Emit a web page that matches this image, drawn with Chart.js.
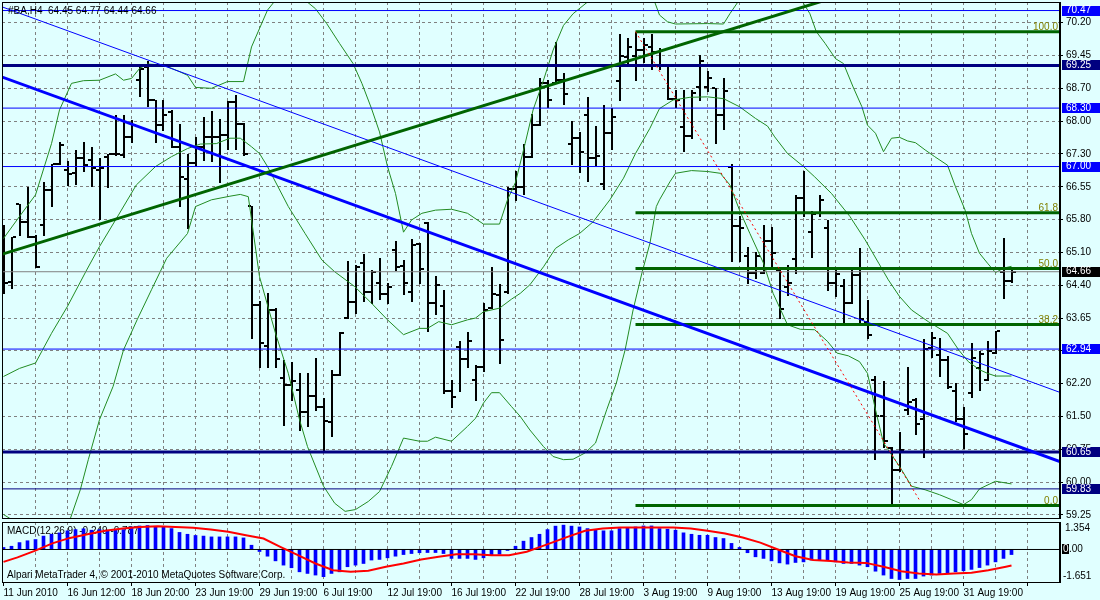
<!DOCTYPE html>
<html>
<head>
<meta charset="utf-8">
<script src="https://cdn.jsdelivr.net/npm/chart.js@4"></script>
<style>
  html, body { margin: 0; padding: 0; background: #e0ffff; }
  #wrap { position: relative; width: 1100px; height: 600px; background: #e0ffff; overflow: hidden; }
  canvas { position: absolute; left: 0; display: block; }
</style>
</head>
<body>
<div id="wrap">
  <canvas id="price" width="1100" height="521" style="top:0"></canvas>
  <canvas id="macd" width="1100" height="79" style="top:521px"></canvas>
</div>
<script>
// ---- data ----
const header = '#BA,H4  64.45 64.77 64.44 64.66';
const macdHeader = 'MACD(12,26,9) -0.249 -0.787';
const copyright = 'Alpari MetaTrader 4, \u00a9 2001-2010 MetaQuotes Software Corp.';

const dateLabels = ['11 Jun 2010', '16 Jun 12:00', '18 Jun 20:00', '23 Jun 19:00', '29 Jun 19:00',
  '6 Jul 19:00', '12 Jul 19:00', '16 Jul 19:00', '22 Jul 19:00', '28 Jul 19:00', '3 Aug 19:00',
  '9 Aug 19:00', '13 Aug 19:00', '19 Aug 19:00', '25 Aug 19:00', '31 Aug 19:00'];
const barsPerLabel = 8;
const barsPerGrid = 4;

const yTickLabels = ['59.25', '60.00', '60.75', '61.50', '62.20', '62.90', '63.65', '64.40',
  '65.10', '65.80', '66.55', '67.30', '68.00', '68.70', '69.45', '70.20'];
const yTickStart = 59.25, yTickStep = 0.73;

const opens = [
  65.51, 64.44, 66.17, 65.77, 65.43, 65.70, 66.48, 67.05, 66.92, 66.85,
  67.18, 67.14, 66.92, 67.22, 67.28, 67.26, 67.66, 68.92, 69.22, 68.49,
  67.92, 68.22, 67.44, 66.72, 67.07, 67.43, 67.65, 67.66, 67.70, 68.44,
  67.94, 66.12, 63.92, 63.00, 63.81, 62.29, 62.14, 62.03, 61.55, 61.89,
  61.65, 61.31, 62.37, 63.63, 63.98, 64.85, 64.20, 64.42, 64.16, 65.14,
  64.79, 64.22, 65.28, 65.74, 63.96, 63.90, 62.00, 62.98, 62.71, 62.26,
  62.55, 63.85, 64.14, 64.22, 66.51, 66.54, 67.22, 67.92, 68.86, 68.85,
  68.92, 67.50, 67.63, 68.14, 67.18, 66.61, 67.74, 68.91, 69.43, 69.46,
  69.59, 69.66, 69.55, 69.26, 68.51, 67.89, 67.68, 68.76, 68.77, 68.74,
  68.14, 67.00, 65.68, 65.00, 64.63, 64.64, 65.35, 64.69, 64.33, 64.94,
  66.29, 65.55, 65.96, 65.63, 64.40, 64.34, 63.97, 64.59, 63.55, 62.26,
  61.44, 60.74, 60.26, 61.59, 61.81, 61.38, 62.96, 62.81, 62.70, 62.00,
  61.38, 61.96, 62.51, 62.26, 62.85, 64.66, 64.45];
const highs = [
  65.70, 65.44, 66.17, 66.54, 65.48, 66.66, 67.05, 67.55, 67.12, 67.37,
  67.55, 67.44, 67.18, 67.28, 68.14, 68.14, 68.03, 69.26, 69.34, 68.49,
  68.49, 68.26, 67.94, 67.29, 67.66, 68.11, 68.23, 68.06, 68.46, 68.59,
  67.96, 66.12, 64.00, 64.18, 63.85, 62.70, 62.66, 62.40, 62.40, 62.74,
  61.85, 62.48, 63.33, 64.89, 64.81, 65.06, 64.69, 64.97, 64.40, 65.35,
  64.92, 65.39, 65.29, 65.77, 64.57, 64.26, 62.26, 63.11, 63.33, 62.59,
  63.97, 64.77, 64.38, 66.55, 66.89, 67.50, 68.17, 68.98, 68.92, 69.76,
  69.07, 68.02, 67.76, 68.54, 67.90, 68.37, 68.31, 69.94, 69.87, 70.00,
  69.87, 69.94, 69.63, 69.26, 68.71, 68.71, 68.71, 69.48, 69.13, 68.74,
  68.96, 67.06, 65.90, 65.22, 65.11, 65.70, 65.66, 64.70, 64.81, 66.37,
  66.91, 66.02, 66.37, 65.81, 64.77, 64.49, 64.70, 65.18, 64.03, 62.33,
  62.22, 60.77, 61.09, 62.55, 61.85, 63.17, 63.31, 63.18, 62.79, 62.18,
  61.66, 63.07, 62.89, 63.11, 63.35, 65.40, 64.77];
const lows = [
  64.18, 64.29, 65.48, 65.43, 64.77, 65.48, 66.13, 67.05, 66.59, 66.61,
  66.89, 66.57, 65.83, 66.54, 67.26, 67.22, 67.55, 68.57, 68.35, 67.55,
  67.81, 67.43, 66.13, 65.63, 67.02, 67.14, 67.13, 66.66, 67.40, 67.40,
  67.26, 63.18, 62.55, 62.55, 62.55, 61.26, 61.81, 61.14, 61.22, 61.59,
  60.66, 61.00, 62.37, 63.63, 63.75, 64.00, 63.97, 64.05, 63.96, 64.70,
  64.16, 64.02, 64.42, 63.34, 63.72, 61.97, 61.65, 62.00, 62.53, 61.80,
  62.46, 63.85, 62.64, 64.18, 66.26, 66.38, 67.22, 67.92, 68.33, 68.85,
  68.39, 67.06, 66.87, 66.68, 67.03, 66.49, 67.39, 68.49, 69.29, 68.92,
  69.33, 69.16, 69.16, 68.51, 68.33, 67.35, 67.63, 68.49, 68.69, 67.53,
  67.83, 64.89, 64.89, 64.42, 64.51, 64.63, 64.77, 63.63, 64.14, 64.64,
  65.89, 64.98, 65.90, 64.26, 64.12, 63.55, 63.96, 63.51, 63.18, 60.49,
  60.77, 59.48, 60.22, 61.49, 61.05, 60.55, 62.77, 62.34, 62.07, 61.35,
  60.75, 61.87, 62.02, 62.26, 62.85, 64.07, 64.44];
const closes = [
  64.40, 65.43, 65.77, 65.43, 64.77, 66.48, 67.05, 67.48, 66.83, 67.18,
  67.03, 66.96, 66.96, 67.28, 67.29, 67.66, 67.92, 69.18, 68.49, 67.92,
  68.14, 67.44, 66.77, 67.07, 67.43, 67.65, 67.66, 67.70, 68.44, 67.94,
  67.28, 63.92, 63.07, 63.81, 62.71, 62.14, 62.23, 61.55, 61.89, 61.66,
  61.33, 62.37, 63.29, 63.98, 64.77, 64.20, 64.66, 64.16, 64.33, 64.76,
  64.42, 65.26, 64.71, 63.96, 64.37, 62.00, 61.87, 62.71, 63.13, 62.55,
  63.81, 64.17, 63.14, 66.51, 66.55, 67.22, 67.92, 68.86, 68.48, 68.92,
  68.61, 67.63, 67.33, 67.18, 67.23, 67.74, 68.11, 69.46, 69.66, 69.59,
  69.70, 69.55, 69.26, 68.51, 68.48, 67.68, 68.63, 69.35, 68.96, 68.14,
  68.69, 65.68, 65.63, 64.63, 65.01, 65.35, 65.07, 63.83, 64.40, 66.29,
  65.96, 65.94, 66.26, 64.42, 64.60, 63.97, 64.59, 63.60, 63.26, 61.44,
  60.89, 60.26, 60.70, 61.77, 61.28, 62.94, 63.18, 62.70, 62.09, 61.38,
  61.06, 62.74, 62.83, 62.89, 63.35, 64.45, 64.66];

// Bollinger bands as [bar, value]
const bbUpper = [[0,65.40],[2,65.89],[4,66.37],[6,67.51],[7,68.26],[8.5,68.85],[10,68.91],[12,68.92],
  [14,69.06],[15,68.92],[16,68.96],[17,69.18],[18,69.28],[20,69.26],[22,69.11],[23,69.03],[24,68.76],
  [26,68.74],[28,68.89],[30,68.89],[31,69.66],[32,70.07],[33,70.48],[34,70.70],[35,70.78],[36,70.82],
  [37.7,70.70],[39,70.51],[40.4,70.18],[42,69.74],[43.7,69.29],[44.8,68.85],[46,68.29],[47,67.77],
  [48,67.00],[49,66.40],[50,65.54],[51,65.81],[52.3,65.96],[54,66.03],[56,66.05],[58,65.96],[60,65.72],
  [62,65.72],[63,66.26],[64,66.65],[65.2,67.51],[66.2,68.26],[67.5,68.92],[68.7,69.59],[70,70.14],
  [71.2,70.40],[73,70.66],[75,70.95],[77,71.05],[79,70.95],[81.4,70.66],[82,70.37],[83,70.22],[84,70.17],
  [88,70.18],[90,70.17],[90.8,70.40],[91.8,70.66],[93,70.95],[95,71.10],[97,71.15],[99,70.85],[100,70.63],
  [100.8,70.40],[101.6,70.00],[102.7,69.74],[104,69.40],[105,69.29],[106.2,68.77],[107.3,68.33],[108,67.92],
  [109,67.74],[110,67.33],[111,67.63],[112,67.65],[113,67.57],[114,67.53],[115.2,67.37],[116.4,67.22],
  [118,67.03],[119,66.55],[120.2,66.03],[121,65.51],[122,65.07],[123,64.85],[124,64.64],[125,64.74],[126,64.78]];
const bbMiddle = [[0,62.33],[2,62.51],[4,62.63],[6,63.29],[8,63.89],[10.4,64.70],[12,65.22],[14,65.81],
  [16.6,66.59],[19,67.00],[21,67.22],[23,67.40],[24.6,67.50],[26.6,67.51],[28.3,67.63],[29.6,67.63],
  [31,67.44],[32,67.29],[33,67.00],[35.6,66.11],[37.7,65.51],[39.8,64.92],[41.4,64.66],[43.9,64.33],
  [46,63.96],[48,63.59],[50,63.26],[52,63.40],[53,63.40],[54.4,63.55],[56,63.48],[58,63.59],[59,63.63],
  [60,63.77],[62,63.85],[63.5,64.05],[64.6,64.18],[65.8,64.37],[67.5,64.77],[69,65.18],[70.6,65.37],
  [72,65.51],[73.7,65.77],[75.8,66.26],[77.5,66.74],[79,67.29],[80.8,67.85],[82,68.29],[83.7,68.48],
  [85.8,68.54],[88,68.55],[90,68.51],[92,68.33],[94,68.07],[95.5,67.90],[96.4,67.66],[98,67.29],
  [100,67.00],[101.4,66.77],[103.5,66.40],[105.8,65.89],[107.7,65.37],[109.4,64.85],[110.6,64.48],
  [112,64.11],[113.5,63.81],[115.6,63.55],[118,63.29],[119.4,62.92],[120.6,62.66],[122,62.48],
  [123,62.40],[124,62.34],[126,62.34]];
const bbLower = [[0,59.26],[1,59.15],[2,59.13],[4,58.89],[6,59.00],[7,58.94],[8.3,59.14],[9.6,59.81],
  [10.6,60.48],[12,61.37],[13.7,62.11],[15,62.92],[16.7,63.59],[18.5,64.26],[20.4,64.96],[23,65.51],
  [24,66.11],[26,66.26],[28.3,66.34],[29.6,66.38],[30.6,66.33],[32,64.55],[34,63.29],[35.6,62.40],
  [37,61.37],[38,60.77],[40,59.89],[41.4,59.51],[42.7,59.33],[44,59.37],[45.6,59.55],[47,59.77],
  [48.5,60.33],[50,60.96],[52,60.89],[53,60.89],[54,60.98],[56,60.89],[58,61.22],[59,61.40],[60,61.74],
  [61,61.97],[62,61.97],[63.5,61.66],[64.6,61.44],[65.8,61.14],[67.5,60.77],[68.7,60.55],[70,60.48],
  [71.2,60.49],[72.7,60.63],[74,60.85],[75.4,61.59],[76.6,62.18],[77.7,62.92],[78.7,63.81],[79.8,64.63],
  [80.8,65.29],[81.6,66.11],[82,66.26],[83.3,66.66],[84,66.85],[86,66.91],[88,66.89],[89.6,66.85],
  [90.8,66.59],[92,66.03],[93.3,65.51],[95,64.85],[96.2,64.18],[98,63.48],[99.6,63.38],[101.4,63.37],
  [103,63.11],[104.2,62.85],[105.6,62.79],[107,62.66],[108,62.40],[109,61.59],[110,60.85],[111,60.59],
  [112,60.33],[113.5,59.89],[115.2,59.81],[117,59.70],[118.5,59.59],[120,59.48],[121,59.59],[122,59.83],
  [124,60.00],[126,59.94]];

// horizontal levels
const blueLevels = [70.47, 68.30, 67.00, 62.94];
const navyThickLevels = [69.25, 60.65];
const navyThinLevels = [59.83];
const bidPrice = 64.66;

// fibonacci retracement
const fibHigh = 70.00, fibLow = 59.46, fibStartBar = 79;
const fibLevels = [0, 38.2, 50, 61.8, 100];
const fibLabels = ['0.0', '38.2', '50.0', '61.8', '100.0'];

// trend lines as two anchors [bar, price]
const greenTrend = [[0, 65.06], [95.8, 70.32]];
const blueTrend = [[0, 68.98], [132, 60.44]];
const blueChannel = [[0, 70.54], [132, 61.98]];
const redFibLine = [[79, 70.00], [114.6, 59.55]];

// MACD(12,26,9)
const macdMain = [
  0.10, 0.16, 0.34, 0.43, 0.49, 0.66, 0.75, 0.82, 0.92, 0.98,
  1.02, 0.95, 0.98, 0.95, 0.95, 0.98, 1.11, 1.16, 1.18, 1.13,
  1.11, 1.03, 0.84, 0.75, 0.69, 0.66, 0.62, 0.62, 0.62, 0.62,
  0.57, 0.21, -0.10, -0.33, -0.56, -0.77, -0.90, -1.10, -1.18, -1.26,
  -1.34, -1.18, -1.10, -0.85, -0.77, -0.69, -0.52, -0.49, -0.41, -0.33,
  -0.25, -0.20, -0.16, -0.15, -0.15, -0.20, -0.44, -0.44, -0.44, -0.49,
  -0.41, -0.28, -0.23, -0.05, 0.16, 0.41, 0.59, 0.75, 0.98, 1.15,
  1.20, 1.15, 1.11, 1.03, 0.95, 0.92, 0.92, 1.03, 1.08, 1.11,
  1.16, 1.16, 1.03, 1.00, 0.95, 0.82, 0.75, 0.70, 0.70, 0.59,
  0.54, 0.30, 0.10, -0.16, -0.36, -0.44, -0.56, -0.66, -0.72, -0.64,
  -0.61, -0.52, -0.52, -0.52, -0.61, -0.69, -0.69, -0.77, -0.85, -1.07,
  -1.26, -1.43, -1.48, -1.43, -1.43, -1.31, -1.26, -1.18, -1.18, -1.10,
  -1.05, -0.98, -0.89, -0.77, -0.61, -0.44, -0.25];
const macdSignal = [[0,-0.61],[1.75,-0.39],[3.9,-0.07],[6.1,0.30],[8.3,0.57],[10.5,0.75],[12.7,0.92],
  [14.9,1.03],[17.1,1.11],[19.3,1.15],[21.5,1.11],[23.7,1.07],[25.9,0.98],[28.1,0.87],[30.3,0.70],
  [32.5,0.54],[34.6,0.13],[36.8,-0.28],[39,-0.69],[41.2,-1.02],[43.4,-1.10],[45.6,-1.05],[47.8,-0.85],
  [50,-0.69],[52.2,-0.49],[54.4,-0.36],[56.6,-0.23],[58.8,-0.23],[61,-0.28],[63.2,-0.28],[65.4,-0.11],
  [67.1,0.13],[68.3,0.30],[70.5,0.62],[72.7,0.92],[74.9,1.03],[77.1,1.08],[79.3,1.08],[81.5,1.08],
  [83.7,1.08],[85.9,1.03],[88,0.92],[90.2,0.79],[92.4,0.59],[94.6,0.34],[96.8,0.00],[99,-0.33],
  [101.2,-0.52],[103.4,-0.57],[105.6,-0.64],[107.8,-0.66],[110,-0.85],[112.2,-1.07],[114.4,-1.18],
  [116.6,-1.23],[118.8,-1.18],[121,-1.15],[123.1,-1.02],[125.3,-0.85],[126,-0.79]];
const macdMax = 1.354, macdMin = -1.651;

// ---- chart setup ----
const FONT = '"Liberation Sans", Arial, sans-serif';
const FSIZE = 10;
Chart.defaults.font.family = FONT;
Chart.defaults.font.size = FSIZE;
Chart.defaults.color = '#000';

const xMin = -0.1875, xMax = 132.0625;
const yMin = 59.16, yMax = 70.66;
const gridColor = '#808080';

const gridBars = [];
for (let k = barsPerGrid; k <= xMax; k += barsPerGrid) gridBars.push(k);

const pts = pairs => pairs.map(p => ({ x: p[0], y: p[1] }));
const hline = (v, from) => [{ x: from, y: v }, { x: xMax + 1, y: v }];
function extend(anchors) {
  const [p, q] = anchors;
  const s = (q[1] - p[1]) / (q[0] - p[0]);
  const lo = xMin - 1, hi = xMax + 1;
  return [{ x: lo, y: p[1] + s * (lo - p[0]) }, { x: hi, y: p[1] + s * (hi - p[0]) }];
}
function lineDs(data, color, width, extra) {
  return Object.assign({ type: 'line', data: data, borderColor: color, borderWidth: width,
    pointRadius: 0, fill: false, tension: 0, clip: 0 }, extra || {});
}
const fibPrice = lvl => fibLow + (fibHigh - fibLow) * lvl / 100;

const datasets = [];
datasets.push(lineDs(pts(redFibLine), '#ff0000', 1, { borderDash: [2, 3] }));
datasets.push(lineDs(extend(greenTrend), '#006400', 3));
datasets.push(lineDs(extend(blueTrend), '#0000ff', 3));
datasets.push(lineDs(extend(blueChannel), '#0000ff', 1));
fibLevels.forEach(l => datasets.push(lineDs(hline(fibPrice(l), fibStartBar), '#006400', 3)));
navyThickLevels.forEach(v => datasets.push(lineDs(hline(v, xMin - 1), '#000080', 3)));
navyThinLevels.forEach(v => datasets.push(lineDs(hline(v, xMin - 1), '#000080', 1)));
blueLevels.forEach(v => datasets.push(lineDs(hline(v, xMin - 1), '#0000ff', 1)));
datasets.push(lineDs(hline(bidPrice, xMin - 1), '#808080', 1));
datasets.push(lineDs(pts(bbUpper), '#228b22', 1));
datasets.push(lineDs(pts(bbMiddle), '#228b22', 1));
datasets.push(lineDs(pts(bbLower), '#228b22', 1));

const ohlcPlugin = {
  id: 'ohlc',
  beforeDatasetsDraw(chart) {
    const { ctx, chartArea: a, scales: { x, y } } = chart;
    ctx.save();
    ctx.beginPath();
    ctx.rect(a.left, a.top, a.right - a.left, a.bottom - a.top);
    ctx.clip();
    ctx.fillStyle = '#000';
    for (let i = 0; i < closes.length; i++) {
      const px = Math.round(x.getPixelForValue(i));
      const h = Math.round(y.getPixelForValue(highs[i]));
      const l = Math.round(y.getPixelForValue(lows[i]));
      const o = Math.round(y.getPixelForValue(opens[i]));
      const c = Math.round(y.getPixelForValue(closes[i]));
      ctx.fillRect(px - 1, h, 2, Math.max(1, l - h + 1));
      ctx.fillRect(px - 4, o - 1, 3, 2);
      ctx.fillRect(px + 1, c - 1, 3, 2);
    }
    ctx.restore();
  }
};

function priceBox(ctx, yScale, v, bg) {
  const py = yScale.getPixelForValue(v);
  ctx.fillStyle = bg;
  ctx.fillRect(yScale.left + 2, Math.round(py) - 5, 38, 10);
  ctx.fillStyle = '#fff';
  ctx.fillText(v.toFixed(2), yScale.left + 6, py);
}

const mainOverlay = {
  id: 'mainOverlay',
  afterDraw(chart) {
    const { ctx, chartArea: a, scales: { y } } = chart;
    ctx.save();
    ctx.strokeStyle = '#000';
    ctx.lineWidth = 1;
    ctx.strokeRect(a.left + 0.5, a.top + 0.5, a.right - a.left - 1, a.bottom - a.top - 1);
    ctx.strokeRect(a.right + 0.5, a.top, 0, a.bottom - a.top);

    // fibo level captions
    ctx.font = FSIZE + 'px ' + FONT;
    ctx.fillStyle = '#808000';
    ctx.textAlign = 'right';
    ctx.textBaseline = 'alphabetic';
    fibLevels.forEach((l, i) => {
      ctx.fillText(fibLabels[i], a.right - 2, y.getPixelForValue(fibPrice(l)) - 2);
    });

    // price boxes on the axis
    ctx.textAlign = 'left';
    ctx.textBaseline = 'middle';
    blueLevels.forEach(v => priceBox(ctx, y, v, '#0000ff'));
    navyThickLevels.concat(navyThinLevels).forEach(v => priceBox(ctx, y, v, '#000080'));
    priceBox(ctx, y, bidPrice, '#000000');

    // symbol header
    ctx.fillStyle = '#000';
    ctx.textBaseline = 'top';
    ctx.fillText(header, a.left + 6, a.top + 4);
    ctx.restore();
  }
};

new Chart(document.getElementById('price'), {
  type: 'line',
  data: { datasets: datasets },
  options: {
    responsive: false,
    animation: false,
    devicePixelRatio: 1,
    layout: { padding: { left: 2, top: 2, right: 0, bottom: 2 } },
    plugins: { legend: { display: false }, tooltip: { enabled: false } },
    scales: {
      x: {
        type: 'linear', min: xMin, max: xMax, offset: false,
        afterBuildTicks: s => { s.ticks = gridBars.map(v => ({ value: v })); },
        afterFit: s => { s.height = 0; s.paddingLeft = 0; s.paddingRight = 0; },
        ticks: { display: false },
        grid: { color: gridColor, drawTicks: false, offset: false },
        border: { display: false, dash: [3, 3] }
      },
      y: {
        type: 'linear', position: 'right', min: yMin, max: yMax,
        afterBuildTicks: s => { s.ticks = yTickLabels.map((t, i) => ({ value: yTickStart + i * yTickStep })); },
        afterFit: s => { s.width = 40; s.paddingTop = 0; s.paddingBottom = 0; },
        ticks: { autoSkip: false, padding: 3, callback: (v, i) => yTickLabels[i] },
        grid: { color: gridColor, tickLength: 3, tickColor: '#000', tickBorderDash: [] },
        border: { display: false, dash: [3, 3] }
      }
    }
  },
  plugins: [ohlcPlugin, mainOverlay]
});

const macdOverlay = {
  id: 'macdOverlay',
  beforeDatasetsDraw(chart) {
    const { ctx, chartArea: a } = chart;
    ctx.save();
    ctx.font = FSIZE + 'px ' + FONT;
    ctx.fillStyle = '#000';
    ctx.textAlign = 'left';
    ctx.textBaseline = 'middle';
    ctx.fillText(macdHeader, a.left + 5, a.top + 9);
    ctx.fillText(copyright, a.left + 5, a.bottom - 8);
    ctx.restore();
  },
  afterDraw(chart) {
    const { ctx, chartArea: a, scales: { y } } = chart;
    ctx.save();
    ctx.strokeStyle = '#000';
    ctx.lineWidth = 1;
    ctx.strokeRect(a.left + 0.5, a.top + 0.5, a.right - a.left - 1, a.bottom - a.top - 1);
    ctx.strokeRect(a.right + 0.5, a.top, 0, a.bottom - a.top);

    ctx.font = FSIZE + 'px ' + FONT;
    ctx.fillStyle = '#000';
    ctx.textAlign = 'left';
    ctx.textBaseline = 'middle';
    const lx = y.left + 5;
    ctx.fillText(macdMax.toFixed(3), lx, a.top + 6);
    ctx.fillText(macdMin.toFixed(3), lx - 2, a.bottom - 7);
    const zy = y.getPixelForValue(0);
    ctx.fillRect(y.left + 2, Math.round(zy) - 5, 7, 10);
    ctx.fillStyle = '#fff';
    ctx.fillText('0', y.left + 3, zy);
    ctx.fillStyle = '#000';
    ctx.fillText('.00', y.left + 9, zy);
    ctx.restore();
  }
};

new Chart(document.getElementById('macd'), {
  type: 'line',
  data: {
    datasets: [
      lineDs(pts(macdSignal), '#ff0000', 2),
      lineDs([{ x: xMin - 1, y: 0 }, { x: xMax + 1, y: 0 }], '#000000', 1),
      { type: 'bar', data: macdMain.map((v, i) => ({ x: i, y: v })), backgroundColor: '#0000ff',
        barThickness: 3, borderWidth: 0 }
    ]
  },
  options: {
    responsive: false,
    animation: false,
    devicePixelRatio: 1,
    layout: { padding: { left: 2, top: 1, right: 0, bottom: 0 } },
    plugins: { legend: { display: false }, tooltip: { enabled: false } },
    scales: {
      x: {
        type: 'linear', min: xMin, max: xMax, offset: false,
        afterBuildTicks: s => { s.ticks = gridBars.concat([0]).sort((a, b) => a - b).map(v => ({ value: v })); },
        afterFit: s => { s.height = 17; s.paddingLeft = 0; s.paddingRight = 0; },
        ticks: {
          autoSkip: false, maxRotation: 0, align: 'start', padding: 1,
          callback: v => (v % barsPerLabel === 0 && dateLabels[v / barsPerLabel]) ? dateLabels[v / barsPerLabel] : ''
        },
        grid: {
          color: c => (c.tick && c.tick.value === 0) ? 'rgba(0,0,0,0)' : gridColor,
          offset: false, tickLength: 3, tickBorderDash: [],
          tickColor: c => (c.tick && c.tick.value % barsPerLabel === 0) ? '#000' : 'rgba(0,0,0,0)'
        },
        border: { display: false, dash: [3, 3] }
      },
      y: {
        type: 'linear', position: 'right', min: macdMin, max: macdMax,
        afterFit: s => { s.width = 40; s.paddingTop = 0; s.paddingBottom = 0; },
        ticks: { display: false },
        grid: { display: false },
        border: { display: false }
      }
    }
  },
  plugins: [macdOverlay]
});
</script>
</body>
</html>
